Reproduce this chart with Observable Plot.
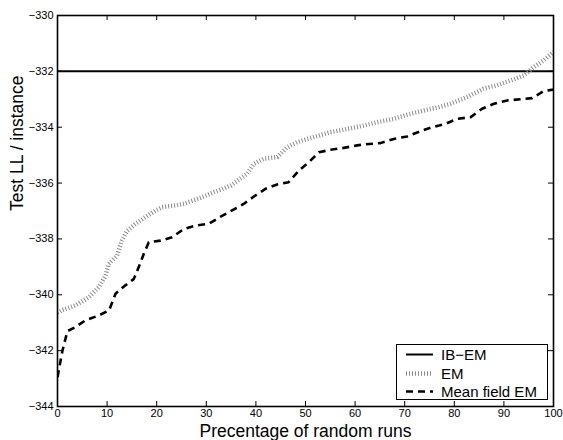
<!DOCTYPE html>
<html><head><meta charset="utf-8">
<script src="https://cdn.jsdelivr.net/npm/d3@7"></script>
<script src="https://cdn.jsdelivr.net/npm/@observablehq/plot@0.6"></script>
<style>
body{margin:0;background:#fff}
#wrap{position:relative;width:563px;height:440px;font-family:"Liberation Sans",Arial,sans-serif}
#legend{position:absolute;left:396px;top:344px;width:150px;height:54px;border:1.5px solid #000;background:#fff}
#legend svg{position:absolute;left:0;top:0}
</style>
</head><body><div id="wrap"></div>
<script>
// ---- data ----
const xTicks = [0,10,20,30,40,50,60,70,80,90,100];
const yTicks = [-344,-342,-340,-338,-336,-334,-332,-330];
const seriesNames = ["IB\u2212EM","EM","Mean field EM"];

const ibX = [0,100];
const ibY = [-332,-332];

const emX = [0,1,3.6,6.3,8.3,9.7,10.3,12,13,14,15.7,17.7,19.8,21.1,23.8,25.5,28.8,31.5,34.9,38.2,39.6,41.6,44.3,46.3,48.3,50.3,52.7,55,58.4,61.8,64.5,67.8,71.2,73.9,76.9,79.2,82.6,85.9,88.6,91.3,94,96,98,100];
const emY = [-340.65,-340.54,-340.38,-340.09,-339.73,-339.31,-338.9,-338.6,-338.05,-337.72,-337.46,-337.22,-336.98,-336.86,-336.8,-336.74,-336.53,-336.33,-336.09,-335.67,-335.31,-335.13,-335.07,-334.72,-334.54,-334.42,-334.3,-334.18,-334.06,-333.94,-333.82,-333.7,-333.52,-333.4,-333.28,-333.16,-332.92,-332.62,-332.5,-332.33,-332.15,-331.85,-331.61,-331.3];

const mfX = [0,1,2,3.6,5.6,8.3,10.4,11.7,13.4,15.4,16.4,17.4,18.4,20.8,23.1,25.5,27.8,30.5,32.9,35.2,37.6,39.6,42,44.3,46.6,48.7,50.7,52.7,55,57.7,60.4,62.8,65.1,67.8,70.5,73.2,75.5,78.2,80.6,83.3,85.6,88,90.7,93.3,95.7,98,100];
const mfY = [-342.95,-342.0,-341.3,-341.16,-340.92,-340.74,-340.56,-339.96,-339.7,-339.43,-339.0,-338.53,-338.12,-338.06,-337.94,-337.64,-337.52,-337.46,-337.2,-336.98,-336.74,-336.48,-336.2,-336.05,-335.97,-335.55,-335.25,-334.9,-334.81,-334.74,-334.65,-334.6,-334.57,-334.42,-334.33,-334.14,-334.0,-333.88,-333.7,-333.64,-333.34,-333.16,-333.04,-333.0,-332.96,-332.71,-332.65];

const xLabel = "Precentage of random runs";
const yLabel = "Test LL / instance";

// ---- build ----
const W=563,H=440,mL=57,mR=10,mT=15,mB=34;
const innerW=W-mL-mR, innerH=H-mT-mB;
const toRows=(xs,ys)=>xs.map((x,i)=>({x,y:ys[i]}));
const ib=toRows(ibX,ibY), em=toRows(emX,emY), mf=toRows(mfX,mfY);

const styles = {
  ib:{stroke:"#000",strokeWidth:2},
  em:{stroke:"#8c8c8c",strokeWidth:4.5,strokeDasharray:"1 2"},
  mf:{stroke:"#000",strokeWidth:2.6,strokeDasharray:"7 5"}
};

const chart = Plot.plot({
  width:W,height:H,marginLeft:mL,marginRight:mR,marginTop:mT,marginBottom:mB,
  style:{fontFamily:"'Liberation Sans',Arial,sans-serif",fontSize:"11px",color:"#000",background:"#fff",overflow:"visible"},
  x:{domain:[0,100]},
  y:{domain:[-344,-330]},
  marks:[
    Plot.line(ib,{x:"x",y:"y",...styles.ib,clip:true}),
    Plot.line(em,{x:"x",y:"y",...styles.em,clip:true,strokeLinecap:"butt"}),
    Plot.line(mf,{x:"x",y:"y",...styles.mf,clip:true,strokeLinecap:"butt"}),
    Plot.tickX(xTicks,{x:d=>d,insetTop:innerH-5,stroke:"#000",strokeWidth:1}),
    Plot.tickX(xTicks,{x:d=>d,insetBottom:innerH-5,stroke:"#000",strokeWidth:1}),
    Plot.tickY(yTicks,{y:d=>d,insetRight:innerW-5,stroke:"#000",strokeWidth:1}),
    Plot.tickY(yTicks,{y:d=>d,insetLeft:innerW-5,stroke:"#000",strokeWidth:1}),
    Plot.axisX(xTicks,{tickSize:0,tickPadding:3,fontSize:11,label:null,fill:"#000"}),
    Plot.axisY(yTicks,{tickSize:0,tickPadding:4,fontSize:11,label:null,fill:"#000"}),
    Plot.frame({stroke:"#000",strokeWidth:1.6}),
    Plot.text([xLabel],{frameAnchor:"bottom",dy:25,lineAnchor:"middle",fontSize:17.5,fill:"#000"}),
    Plot.text([yLabel],{frameAnchor:"left",dx:-40,rotate:-90,lineAnchor:"middle",fontSize:17.5,fill:"#000"})
  ]
});
const wrap=document.getElementById("wrap");
wrap.appendChild(chart);

// legend
const leg=document.createElement("div");
leg.id="legend";
const ns="http://www.w3.org/2000/svg";
const svg=document.createElementNS(ns,"svg");
svg.setAttribute("width",150);svg.setAttribute("height",54);
const keys=["ib","em","mf"], rowsY=[9.5,28.5,46.5];
keys.forEach((k,i)=>{
  const l=document.createElementNS(ns,"line");
  l.setAttribute("x1",9);l.setAttribute("x2",36);
  l.setAttribute("y1",rowsY[i]);l.setAttribute("y2",rowsY[i]);
  const s=styles[k];
  l.setAttribute("stroke",s.stroke);l.setAttribute("stroke-width",s.strokeWidth);
  if(s.strokeDasharray)l.setAttribute("stroke-dasharray",s.strokeDasharray);
  svg.appendChild(l);
  const t=document.createElementNS(ns,"text");
  t.setAttribute("x",44);t.setAttribute("y",rowsY[i]);
  t.setAttribute("dy","0.35em");
  t.setAttribute("font-size","15");
  t.setAttribute("font-family","'Liberation Sans',Arial,sans-serif");
  t.textContent=seriesNames[i];
  svg.appendChild(t);
});
leg.appendChild(svg);
wrap.appendChild(leg);
</script>
</body></html>
